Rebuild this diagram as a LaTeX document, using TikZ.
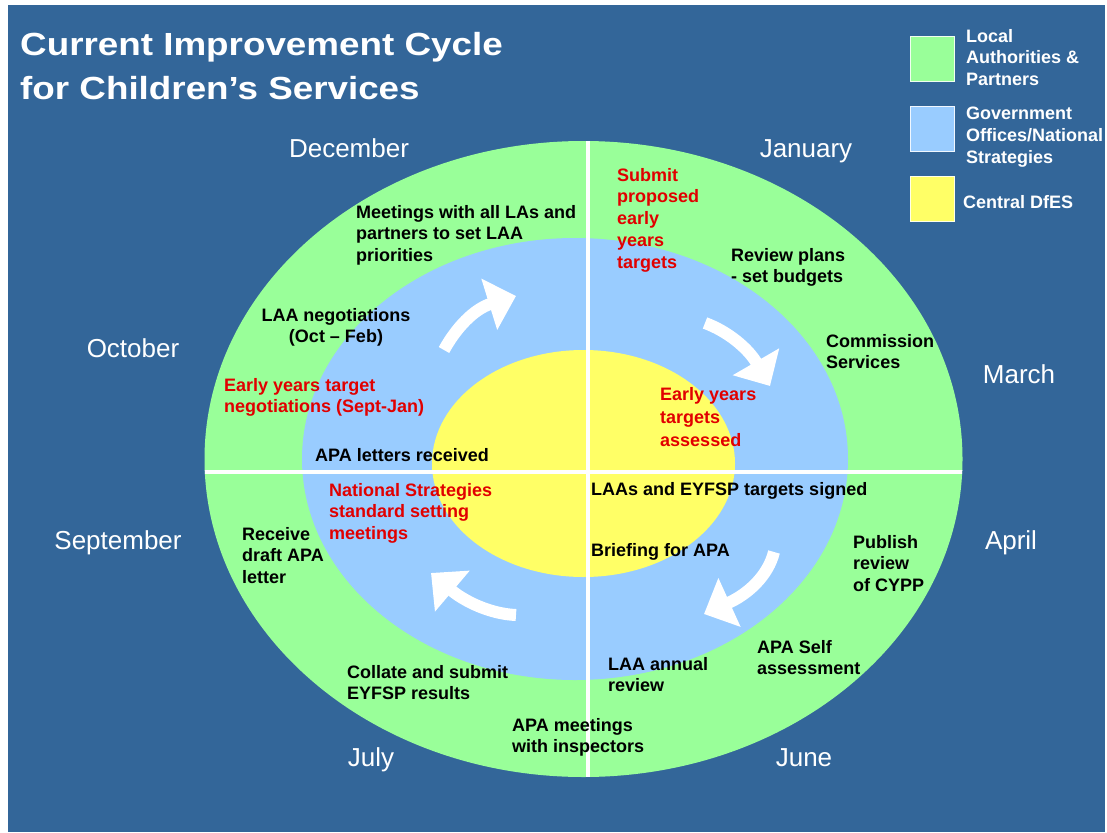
\documentclass[tikz,border=0pt]{standalone}
\usepackage{fontspec}
\setmainfont{Liberation Sans}
\usetikzlibrary{arrows.meta}
\definecolor{bgblue}{RGB}{51,102,153}
\definecolor{lgreen}{RGB}{153,255,153}
\definecolor{lblue}{RGB}{153,204,255}
\definecolor{lyellow}{RGB}{255,255,102}
\definecolor{tred}{RGB}{225,0,0}
\begin{document}
\begin{tikzpicture}[x=1pt,y=-1pt,
  txt/.style={font=\fontsize{18}{21.7}\selectfont\bfseries, align=left, anchor=north west, inner sep=0pt, text=black},
  redtxt/.style={txt, text=tred},
  legtxt/.style={txt, text=white},
  month/.style={font=\fontsize{26}{30}\selectfont, text=white, inner sep=0pt, anchor=base},
  titletxt/.style={font=\fontsize{32}{38}\selectfont\bfseries, text=white, inner sep=0pt, anchor=north west},
  legbox/.style={fill=#1, draw=white!85!#1, line width=0.8pt, minimum width=44pt, minimum height=45pt, inner sep=0pt, anchor=north west},
  cyc/.style={white, line width=12pt, -{Triangle[length=28pt,width=52pt]}},
  divider/.style={white, line width=4.5pt}
]
\useasboundingbox (0,0) rectangle (1107,832);
\fill[bgblue] (8,5) rectangle (1105,832);

% rings
\fill[lgreen] (583.5,459) ellipse [x radius=379, y radius=318];
\fill[lblue] (575,459) ellipse [x radius=273, y radius=221];
\fill[lyellow] (583.5,463.5) ellipse [x radius=151.5, y radius=113.5];

% dividing lines
\begin{scope}
  \clip (583.5,459) ellipse [x radius=379, y radius=318];
  \draw[divider] (150,472) -- (1000,472);
  \draw[divider] (588,100) -- (588,800);
\end{scope}

% cycle arrows
\draw[cyc] (444,350) .. controls (456,328) and (474,309) .. (516,296);
\draw[cyc] (705,323) .. controls (727,331) and (748,348) .. (770,386);
\draw[cyc] (774,552) .. controls (768,576) and (748,594) .. (704,614);
\draw[cyc] (516,615) .. controls (490,614) and (464,601) .. (431,573);

% title
\node[titletxt] (t1) at (20,32) {\scalebox{1.15}[1]{Current Improvement Cycle}};
\node[titletxt] (t2) at (20,76) {\scalebox{1.15}[1]{for Children’s Services}};

% legend
\node[legbox=lgreen] (lg) at (910,36) {};
\node[legbox=lblue] (lb) at (910,106) {};
\node[legbox=lyellow] (ly) at (910,176) {};
\node[legtxt] (lgt) at (966,29) {Local\\Authorities \&\\Partners};
\node[legtxt] (lbt) at (966,107) {Government\\Offices/National\\Strategies};
\node[legtxt] (lyt) at (963,195) {Central DfES};

% months
\node[month] (dec) at (349,157) {December};
\node[month] (jan) at (806,157) {January};
\node[month] (oct) at (133,357) {October};
\node[month] (mar) at (1019,383) {March};
\node[month] (sep) at (118,549) {September};
\node[month] (apr) at (1011,549) {April};
\node[month] (jul) at (371,766) {July};
\node[month] (jun) at (804,766) {June};

% activities
\node[txt] (meet) at (356,205) {Meetings with all LAs and\\partners to set LAA\\priorities};
\node[txt, align=center, anchor=north] (laaneg) at (336,308) {LAA negotiations\\(Oct – Feb)};
\node[redtxt] (eyneg) at (224,378) {Early years target\\negotiations (Sept-Jan)};
\node[txt] (apalet) at (315,448) {APA letters received};
\node[redtxt] (submit) at (617,168) {Submit\\proposed\\early\\years\\targets};
\node[txt] (review) at (731,248) {Review plans\\- set budgets};
\node[txt] (comm) at (826,334) {Commission\\Services};
\node[redtxt, font=\fontsize{18}{23}\selectfont\bfseries] (eyass) at (660,387) {Early years\\targets\\assessed};
\node[redtxt] (natstrat) at (329,483) {National Strategies\\standard setting\\meetings};
\node[txt] (receive) at (242,527) {Receive\\draft APA\\letter};
\node[txt] (collate) at (347,665) {Collate and submit\\EYFSP results};
\node[txt] (apameet) at (512,718) {APA meetings\\with inspectors};
\node[txt] (signed) at (591,482) {LAAs and EYFSP targets signed};
\node[txt] (brief) at (591,543) {Briefing for APA};
\node[txt] (publish) at (853,535) {Publish\\review\\of CYPP};
\node[txt] (apaself) at (757,640) {APA Self\\assessment};
\node[txt] (laaann) at (608,657) {LAA annual\\review};
\end{tikzpicture}
\end{document}
